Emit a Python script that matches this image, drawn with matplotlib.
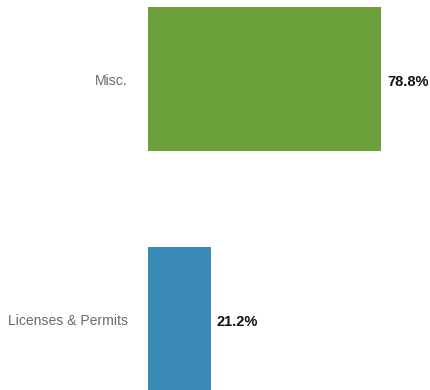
import matplotlib.pyplot as plt

categories = ["Licenses & Permits", "Misc."]
values = [21.2, 78.8]
labels = ["21.2%", "78.8%"]
colors = ["#3a88b6", "#6a9f39"]

W, H = 430, 390
fig = plt.figure(figsize=(W / 100, H / 100), dpi=100)
ax = fig.add_axes([148 / W, 0, (W - 148) / W, 1])

ypos = list(range(len(categories)))
bars = ax.barh(ypos, values, height=0.6, color=colors)

ax.set_xlim(0, (W - 148) / 2.957)
ax.set_ylim(-0.294, 1.331)

ax.set_yticks(ypos)
ax.set_yticklabels(categories, family="Liberation Sans", fontsize=10.1, color="#6b6b6b")
ax.tick_params(axis="y", length=0, pad=14.5)
ax.set_xticks([])
for s in ax.spines.values():
    s.set_visible(False)

for b, lab in zip(bars, labels):
    ax.annotate(lab, (b.get_width(), b.get_y() + b.get_height() / 2),
                xytext=(4.5, -1.5), textcoords="offset points",
                ha="left", va="center", fontsize=10.5, fontweight="bold",
                family="Liberation Sans", color="#111111")

fig.savefig("out.png", dpi=100, facecolor="white")
